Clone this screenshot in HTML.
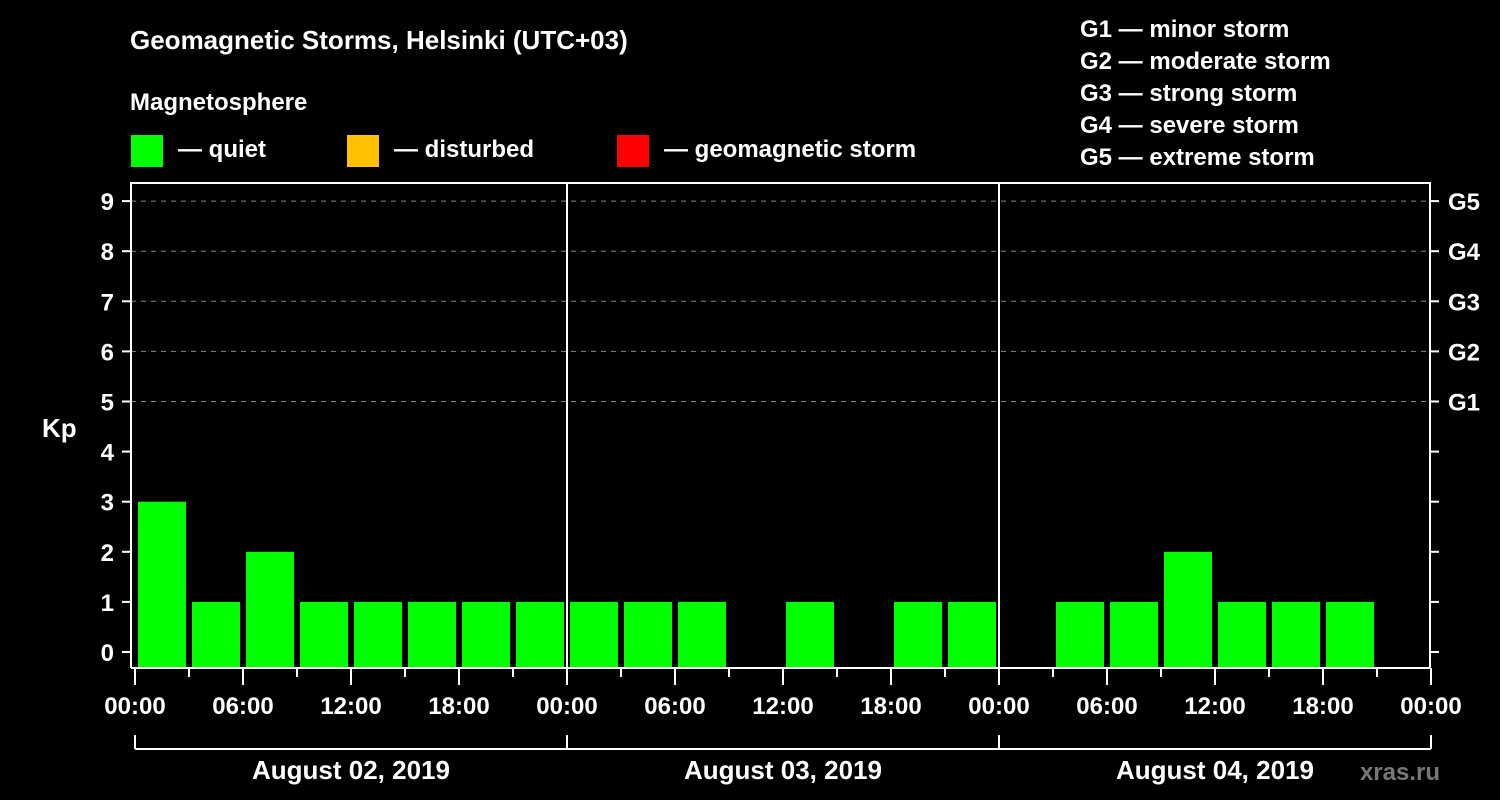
<!DOCTYPE html>
<html><head><meta charset="utf-8"><style>
body{margin:0;background:#000;}
svg{display:block;font-family:"Liberation Sans",sans-serif;font-weight:bold;}
</style></head><body>
<svg id="c" width="1500" height="800">
<text x="130" y="49" fill="#fff" font-size="26">Geomagnetic Storms, Helsinki (UTC+03)</text>
<text x="130" y="110" fill="#fff" font-size="24">Magnetosphere</text>
<g><rect x="131" y="135" width="32" height="32" fill="#00ff00"/><text x="178" y="157" fill="#fff" font-size="24">— quiet</text></g>
<g><rect x="347" y="135" width="32" height="32" fill="#ffc000"/><text x="394" y="157" fill="#fff" font-size="24">— disturbed</text></g>
<g><rect x="617" y="135" width="32" height="32" fill="#ff0000"/><text x="664" y="157" fill="#fff" font-size="24">— geomagnetic storm</text></g>
<g fill="#fff" font-size="24">
<text x="1080" y="37">G1 — minor storm</text>
<text x="1080" y="69">G2 — moderate storm</text>
<text x="1080" y="101">G3 — strong storm</text>
<text x="1080" y="133">G4 — severe storm</text>
<text x="1080" y="165">G5 — extreme storm</text>
</g>
<text x="42" y="437" fill="#fff" font-size="26">Kp</text>
<g id="grid"></g><g id="bars"></g><g id="axes"></g>
<text x="1440" y="780" fill="#777" font-size="24" text-anchor="end">xras.ru</text>
</svg>
<script>
const kpValues=[3,1,2,1,1,1,1,1, 1,1,1,0,1,0,1,1, 0,1,1,2,1,1,1,0];
const dayLabels=["August 02, 2019","August 03, 2019","August 04, 2019"];
const hourLabels=["00:00","06:00","12:00","18:00"];
const yTicks=[0,1,2,3,4,5,6,7,8,9];
const gLabels=["G1","G2","G3","G4","G5"];
const NS="http://www.w3.org/2000/svg";
const X0=135,SLOT=54,Y0=652,UNIT=50.1,BOTTOM=668,TOP=183,LEFT=131,RIGHT=1430;
const xs=i=>X0+SLOT*i, ys=v=>Y0-UNIT*v;
function mk(t,a,p,txt){const e=document.createElementNS(NS,t);for(const k in a)e.setAttribute(k,a[k]);if(txt!=null)e.textContent=txt;p.appendChild(e);return e;}
const grid=document.getElementById('grid'),bars=document.getElementById('bars'),axes=document.getElementById('axes');
yTicks.forEach(v=>{
 if(v>=5){const l=mk('line',{x1:LEFT,x2:RIGHT,y1:ys(v),y2:ys(v),stroke:'#888','stroke-dasharray':'5,5'},grid);
 
 }
 mk('line',{x1:LEFT-9,x2:LEFT,y1:ys(v),y2:ys(v),stroke:'#fff','stroke-width':2},axes);
 mk('line',{x1:RIGHT,x2:RIGHT+9,y1:ys(v),y2:ys(v),stroke:'#fff','stroke-width':2},axes);
 const t=mk('text',{x:114,y:ys(v)+9,fill:'#fff','font-size':24,'text-anchor':'end'},axes,String(v));
 
 
});
gLabels.forEach((g,i)=>{const t=mk('text',{x:1448,y:ys(i+5)+9,fill:'#fff','font-size':24},axes,g);
 
 });
kpValues.forEach((v,i)=>{if(v<=0)return;
 const r=mk('rect',{x:xs(i)+3,y:ys(v),width:48,height:BOTTOM-ys(v),fill:'#00ff00'},bars);
 
 });
// frame
mk('polyline',{points:`${LEFT},${BOTTOM} ${LEFT},${TOP} ${RIGHT},${TOP} ${RIGHT},${BOTTOM} ${LEFT},${BOTTOM}`,fill:'none',stroke:'#fff','stroke-width':2},axes);
for(let d=1;d<dayLabels.length;d++)mk('line',{x1:xs(8*d),x2:xs(8*d),y1:TOP,y2:BOTTOM,stroke:'#fff','stroke-width':2},axes);
for(let i=0;i<=kpValues.length;i++){const major=i%2==0;
 mk('line',{x1:xs(i),x2:xs(i),y1:BOTTOM,y2:BOTTOM+(major?17:9),stroke:'#fff','stroke-width':2},axes);
 if(major){const t=mk('text',{x:xs(i),y:714,fill:'#fff','font-size':24,'text-anchor':'middle'},axes,hourLabels[(i/2)%4]);
 
 }}
mk('line',{x1:xs(0),x2:xs(kpValues.length),y1:749,y2:749,stroke:'#fff','stroke-width':2},axes);
for(let d=0;d<=dayLabels.length;d++)mk('line',{x1:xs(8*d),x2:xs(8*d),y1:735,y2:749,stroke:'#fff','stroke-width':2},axes);
dayLabels.forEach((s,d)=>{const t=mk('text',{x:xs(8*d+4),y:779,fill:'#fff','font-size':26,'text-anchor':'middle'},axes,s);
 
 });
</script>
</body></html>
